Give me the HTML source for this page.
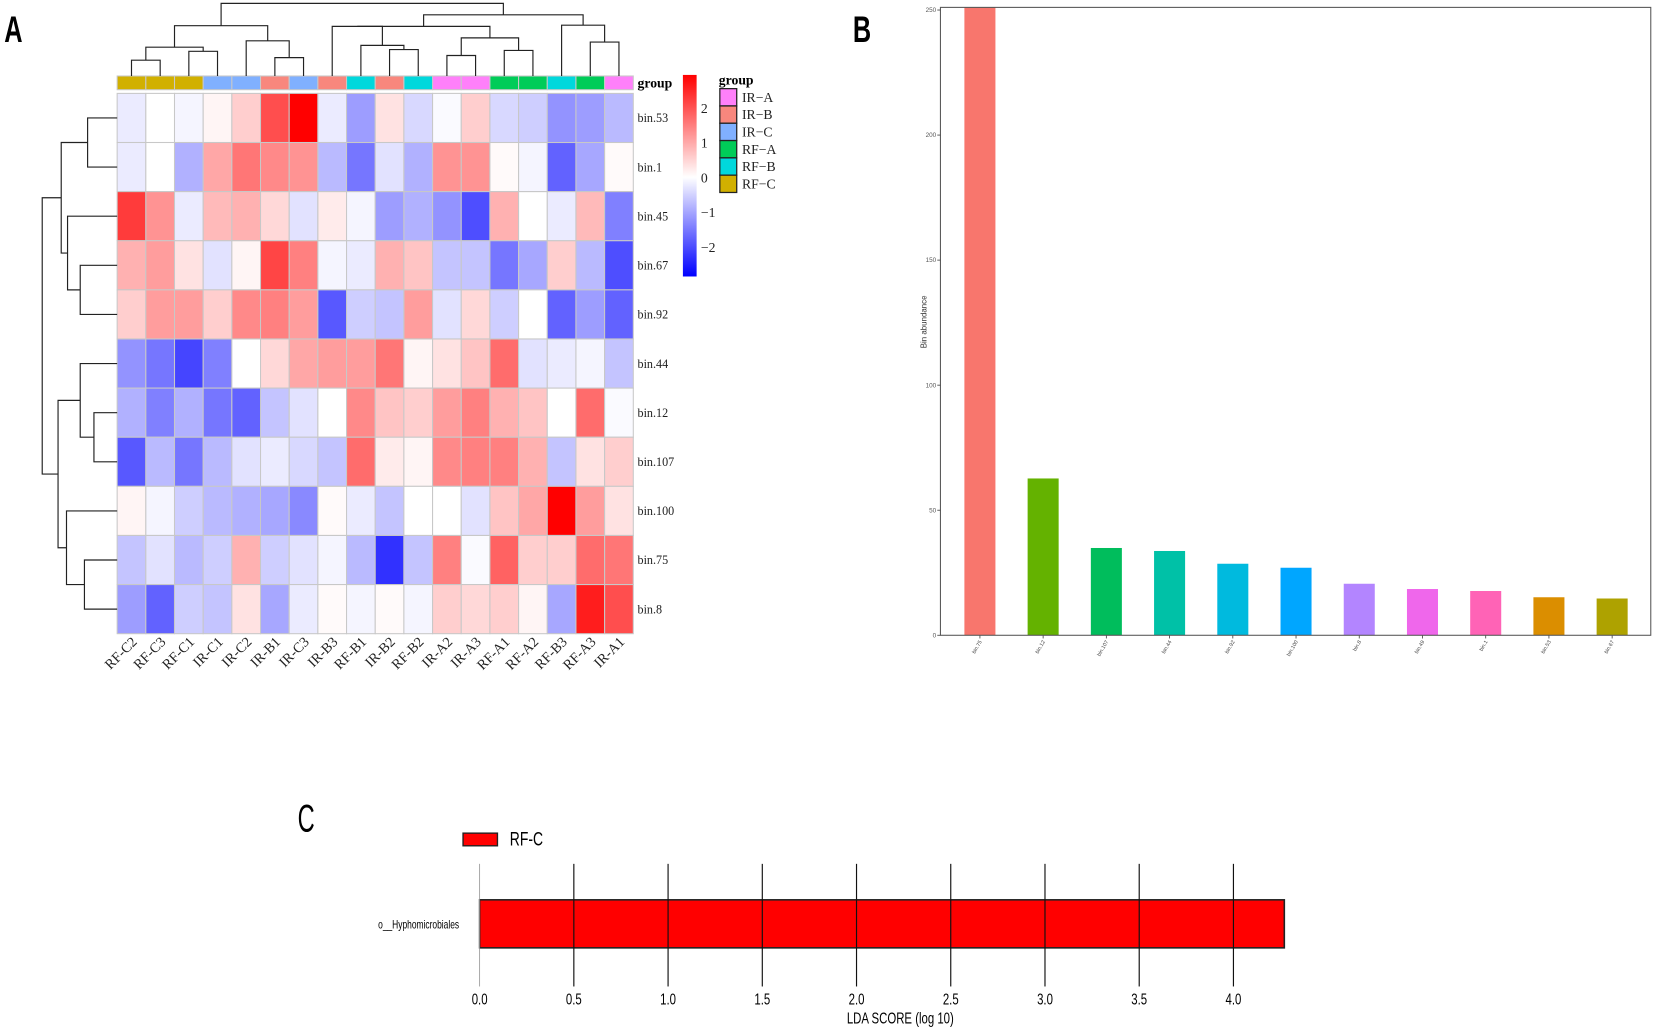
<!DOCTYPE html>
<html><head><meta charset="utf-8"><style>
html,body{margin:0;padding:0;background:#fff;}
svg{display:block;}
</style></head><body>
<svg id="fig" width="1655" height="1031" viewBox="0 0 1568 977" preserveAspectRatio="none" xmlns="http://www.w3.org/2000/svg">
<defs>
<linearGradient id="cscale" x1="0" y1="0" x2="0" y2="1">
<stop offset="0" stop-color="#ff0000"/><stop offset="0.507" stop-color="#ffffff"/><stop offset="1" stop-color="#0000ff"/>
</linearGradient>
<clipPath id="clipB"><rect x="891" y="7" width="673" height="595"/></clipPath>
</defs>
<g id="panelA"></g>
<g id="panelB"></g>
<g id="panelC"></g>
</svg>
<script>
// ---------- Panel A data ----------
const hmCols = ["RF-C2","RF-C3","RF-C1","IR-C1","IR-C2","IR-B1","IR-C3","IR-B3","RF-B1","IR-B2","RF-B2","IR-A2","IR-A3","RF-A1","RF-A2","RF-B3","RF-A3","IR-A1"];
const hmGroups = ["RF-C","RF-C","RF-C","IR-C","IR-C","IR-B","IR-C","IR-B","RF-B","IR-B","RF-B","IR-A","IR-A","RF-A","RF-A","RF-B","RF-A","IR-A"];
const hmRows = ["bin.53","bin.1","bin.45","bin.67","bin.92","bin.44","bin.12","bin.107","bin.100","bin.75","bin.8"];
const row_bin53 = [-0.2,0,-0.1,0.1,0.5,1.8,2.6,-0.2,-1.0,0.3,-0.4,-0.05,0.5,-0.4,-0.5,-1.1,-1.0,-0.7];
const row_bin1 = [-0.2,0,-0.8,0.9,1.4,1.2,1.1,-0.7,-1.4,-0.3,-0.8,1.1,1.1,0.05,-0.1,-1.6,-0.9,0.05];
const row_bin45 = [2.0,1.1,-0.2,0.7,0.8,0.4,-0.3,0.2,-0.1,-1.0,-0.8,-1.1,-1.8,0.8,0,-0.2,0.7,-1.3];
const row_bin67 = [0.8,1.0,0.3,-0.3,0.1,1.9,1.3,-0.1,-0.2,0.8,0.6,-0.6,-0.6,-1.4,-0.9,0.5,-0.7,-1.8];
const row_bin92 = [0.5,1.0,1.0,0.5,1.2,1.3,1.0,-1.7,-0.5,-0.6,1.0,-0.3,0.4,-0.5,0,-1.6,-1.0,-1.6];
const row_bin44 = [-1.1,-1.4,-1.9,-1.3,0,0.4,0.9,1.0,1.0,1.4,0.1,0.3,0.6,1.5,-0.3,-0.2,-0.1,-0.6];
const row_bin12 = [-0.8,-1.3,-0.8,-1.4,-1.6,-0.6,-0.3,0,1.2,0.6,0.5,1.0,1.3,0.8,0.6,0,1.5,-0.05];
const row_bin107 = [-1.7,-0.7,-1.4,-0.7,-0.3,-0.2,-0.4,-0.6,1.5,0.2,0.1,1.2,1.3,1.3,0.8,-0.6,0.3,0.5];
const row_bin100 = [0.1,-0.1,-0.5,-0.7,-0.8,-0.9,-1.2,0.05,-0.2,-0.6,0,0,-0.3,0.6,0.9,2.6,1.0,0.3];
const row_bin75 = [-0.6,-0.3,-0.7,-0.5,0.8,-0.5,-0.3,-0.1,-0.7,-2.1,-0.6,1.3,-0.05,1.6,0.5,0.5,1.5,1.4];
const row_bin8 = [-1.0,-1.6,-0.5,-0.6,0.3,-0.9,-0.2,0.05,-0.1,0.05,-0.1,0.5,0.4,0.5,0.1,-0.9,2.3,1.8];
const hmValues = [row_bin53,row_bin1,row_bin45,row_bin67,row_bin92,row_bin44,row_bin12,row_bin107,row_bin100,row_bin75,row_bin8];
const scaleTicks = [2,1,0,-1,-2];
const groupNames = ["IR-A","IR-B","IR-C","RF-A","RF-B","RF-C"];
// ---------- Panel B data ----------
const barCats = ["bin.75","bin.12","bin.107","bin.44","bin.92","bin.100","bin.8","bin.49","bin.1","bin.53","bin.67"];
const barVals = [262,62.7,34.9,33.7,28.6,27,20.6,18.5,17.7,15.2,14.7];
const barTicks = [0,50,100,150,200,250];
// ---------- Panel C data ----------
const ldaTaxa = ["o__Hyphomicrobiales"];
const ldaVals = [4.27];
const ldaTicks = [0,0.5,1,1.5,2,2.5,3,3.5,4];

const NS="http://www.w3.org/2000/svg";
function mk(parent, tag, attrs, text){
  const e=document.createElementNS(NS,tag);
  for(const k in attrs) e.setAttribute(k,attrs[k]);
  if(text!==undefined) e.textContent=text;
  parent.appendChild(e); return e;
}
const NARROW='Liberation Sans, sans-serif';
const groupColor = {"IR-A":"#ff80fa","IR-B":"#f8877d","IR-C":"#80b0ff","RF-A":"#00cc58","RF-B":"#00d8dc","RF-C":"#d1b000"};
function heatColor(v){
  let t=Math.min(1,Math.abs(v)/2.6);
  const c=Math.round(255*(1-t));
  return v>=0 ? `rgb(255,${c},${c})` : `rgb(${c},${c},255)`;
}

// ---------- Panel A ----------
const A=document.getElementById('panelA');
const hx0=111, hx1=600, hy0=88.5, hy1=600.5;
const cw=(hx1-hx0)/hmCols.length, rh=(hy1-hy0)/hmRows.length;
function colX(i){return hx0+cw*(i+0.5);}
function rowY(j){return hy0+rh*(j+0.5);}
let t=mk(A,'text',{x:0,y:0,transform:'translate(4,40) scale(0.75,1.1)','font-family':NARROW,'font-size':32,'font-weight':'bold'},'A');
 

hmValues.forEach((row,j)=>{
  row.forEach((v,i)=>{
    const r=mk(A,'rect',{x:hx0+cw*i,y:hy0+rh*j,width:cw,height:rh,fill:heatColor(v),stroke:'#c8c8c8','stroke-width':1});
    
    
  });
  const lb=mk(A,'text',{x:604,y:rowY(j)+4,'font-family':'Liberation Serif, serif','font-size':11.5,fill:'#222'},hmRows[j]);
  
  
});
hmGroups.forEach((g,i)=>{
  const r=mk(A,'rect',{x:hx0+cw*i,y:72,width:cw,height:13,fill:groupColor[g],stroke:'#c8c8c8','stroke-width':1});
  
  
  const lb=mk(A,'text',{x:0,y:0,transform:`translate(${colX(i)+6},${609}) rotate(-45)`,'text-anchor':'end','font-family':'Liberation Serif, serif','font-size':13.5,fill:'#222'},hmCols[i]);
  
  
});
t=mk(A,'text',{x:604,y:83,'font-family':'Liberation Serif, serif','font-size':13,'font-weight':'bold'},'group');
 

function drawDendro(node, horiz, g){
  if(typeof node==='number') return horiz ? [colX(node),72] : [rowY(node),hx0];
  const a=drawDendro(node[0],horiz,g), b=drawDendro(node[1],horiz,g), h=node[2];
  let d;
  if(horiz) d=`M${a[0]},${a[1]}V${h}H${b[0]}V${b[1]}`;
  else d=`M${a[1]},${a[0]}H${h}V${b[0]}H${b[1]}`;
  mk(g,'path',{d:d,fill:'none',stroke:'#222','stroke-width':1.1});
  return [(a[0]+b[0])/2,h];
}
const topTree=[[[[0,1,57],[2,3,48.6],44.7],[4,[5,6,54.6],38.7],24.3],[[[7,[8,[9,10,47],43],25],[[11,12,52.6],[13,14,47.8],35.9],25],[15,[16,17,39.9],23.9],14],3.2];
const leftTree=[[[0,1,83],[2,[3,4,76],64],58],[[5,[6,7,89],76],[8,[9,10,80],63],55],40];
const gd1=mk(A,'g',{});  
drawDendro(topTree,true,gd1);
const gd2=mk(A,'g',{});  
drawDendro(leftTree,false,gd2);

const sTop=71, sBot=262, sZero=167.8, sUnit=32.9;
t=mk(A,'rect',{x:647,y:sTop,width:13,height:sBot-sTop,fill:'url(#cscale)'});
 
scaleTicks.forEach(v=>{
  const lb=mk(A,'text',{x:664,y:sZero-v*sUnit+5,'font-family':'Liberation Serif, serif','font-size':13,fill:'#222'},v<0?'\u2212'+Math.abs(v):String(v));
  
  
});
t=mk(A,'text',{x:681,y:80,'font-family':'Liberation Serif, serif','font-size':13,'font-weight':'bold'},'group');
 
groupNames.forEach((g,i)=>{
  const y=84+i*16.4;
  const r=mk(A,'rect',{x:682,y:y,width:16,height:16.4,fill:groupColor[g],stroke:'#222','stroke-width':1.2});
  
  
  const lb=mk(A,'text',{x:703,y:y+12.5,'font-family':'Liberation Serif, serif','font-size':13,fill:'#222'},g.replace('-','\u2212'));
  
  
});

// ---------- Panel B ----------
const B=document.getElementById('panelB');
const bx0=891, bx1=1564, by0=7, bZero=602, bUnit=2.37;
const bY=v=>bZero-v*bUnit;
const bX=i=>928.4+i*59.9;
t=mk(B,'text',{x:0,y:0,transform:'translate(808,40) scale(0.75,1.1)','font-family':NARROW,'font-size':32,'font-weight':'bold'},'B');
 
const bars=mk(B,'g',{'clip-path':'url(#clipB)'});
const barColors=["#f8766d","#64b200","#00bd5c","#00c1a7","#00bade","#00a6ff","#b385ff","#ef67eb","#ff63b6","#db8e00","#aea200"];
barVals.forEach((v,i)=>{
  const r=mk(bars,'rect',{x:bX(i)-14.7,y:bY(v),width:29.4,height:v*bUnit,fill:barColors[i]});
  
  
  mk(B,'line',{x1:bX(i),x2:bX(i),y1:bZero,y2:bZero+3,stroke:'#444','stroke-width':0.8});
  const lb=mk(B,'text',{x:0,y:0,transform:`translate(${bX(i)+2},${bZero+6}) rotate(-60)`,'text-anchor':'end','font-family':'Liberation Sans, sans-serif','font-size':5,fill:'#444'},barCats[i]);
  
  
});
t=mk(B,'rect',{x:bx0,y:by0,width:bx1-bx0,height:bZero-by0,fill:'none',stroke:'#555','stroke-width':1});
 
barTicks.forEach(v=>{
  mk(B,'line',{x1:bx0-3,x2:bx0,y1:bY(v),y2:bY(v),stroke:'#444','stroke-width':0.8});
  const lb=mk(B,'text',{x:bx0-4,y:bY(v)+2,'text-anchor':'end','font-family':'Liberation Sans, sans-serif','font-size':6,fill:'#555'},String(v));
  
  
});
t=mk(B,'text',{x:0,y:0,transform:'translate(878,305) rotate(-90)','text-anchor':'middle','font-family':'Liberation Sans, sans-serif','font-size':7.5,fill:'#333'},'Bin abundance');
 

// ---------- Panel C ----------
const C=document.getElementById('panelC');
const cx0=454.4, cUnit=178.55;
const cX=v=>cx0+v*cUnit;
t=mk(C,'text',{x:0,y:0,transform:'translate(282,788) scale(0.7,1.15)','font-family':NARROW,'font-size':32},'C');
 
t=mk(C,'rect',{x:438.7,y:789.5,width:32.6,height:12,fill:'#ff0000',stroke:'#222','stroke-width':1.3});
 
t=mk(C,'text',{x:0,y:0,transform:'translate(483,801) scale(0.8,1.1)','font-family':NARROW,'font-size':16.5},'RF-C');
 
ldaVals.forEach((v,i)=>{
  const r=mk(C,'rect',{x:cX(0),y:852.7,width:v*cUnit,height:45.5,fill:'#ff0000',stroke:'#222','stroke-width':1.5});
  
  
  const lb=mk(C,'text',{x:0,y:0,transform:'translate(435,880) scale(0.8,1.1)','text-anchor':'end','font-family':NARROW,'font-size':10},ldaTaxa[i]);
  
  
});
ldaTicks.forEach(v=>{
  mk(C,'line',{x1:cX(v),x2:cX(v),y1:818.6,y2:934.8,stroke:v===0?'#999':'#111','stroke-width':v===0?0.8:1.1});
  const lb=mk(C,'text',{x:0,y:0,transform:`translate(${cX(v)},952) scale(0.8,1.1)`,'text-anchor':'middle','font-family':NARROW,'font-size':13.5},v.toFixed(1));
  
  
});
t=mk(C,'text',{x:0,y:0,transform:'translate(853,970) scale(0.8,1.1)','text-anchor':'middle','font-family':NARROW,'font-size':13.5},'LDA SCORE (log 10)');
 
</script>
</body></html>
